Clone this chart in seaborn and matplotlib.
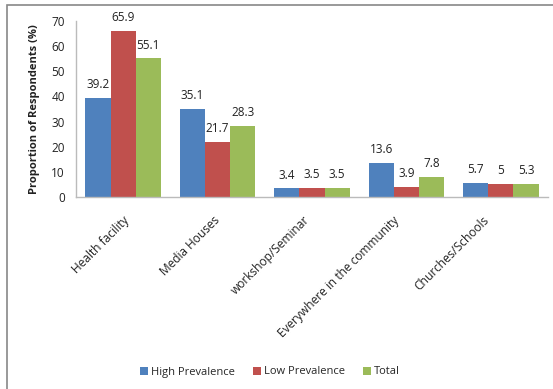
import matplotlib
matplotlib.use("Agg")
import matplotlib.pyplot as plt
import matplotlib.transforms as mtransforms
import seaborn as sns
import pandas as pd
from matplotlib.patches import Rectangle

categories = ["Health facility", "Media Houses", "workshop/Seminar",
              "Everywhere in the community", "Churches/Schools"]
series = ["High Prevalence", "Low Prevalence", "Total"]
high = [39.2, 35.1, 3.4, 13.6, 5.7]
low = [65.9, 21.7, 3.5, 3.9, 5.0]
total = [55.1, 28.3, 3.5, 7.8, 5.3]
labels = {
    "High Prevalence": ["39.2", "35.1", "3.4", "13.6", "5.7"],
    "Low Prevalence": ["65.9", "21.7", "3.5", "3.9", "5"],
    "Total": ["55.1", "28.3", "3.5", "7.8", "5.3"],
}
yticks = [0, 10, 20, 30, 40, 50, 60, 70]

df = pd.DataFrame({
    "Source": categories * 3,
    "Series": [series[0]] * 5 + [series[1]] * 5 + [series[2]] * 5,
    "Value": high + low + total,
})

sns.set_theme(style="white")
plt.rcParams["font.family"] = ["Open Sans", "DejaVu Sans"]

fig = plt.figure(figsize=(5.53, 3.89), dpi=100)
ax = fig.add_axes([76 / 553, 1 - 197 / 389, 472 / 553, 176 / 389])

palette = ["#4F81BD", "#C0504D", "#9BBB59"]
sns.barplot(data=df, x="Source", y="Value", hue="Series", order=categories,
            hue_order=series, palette=palette, saturation=1, width=0.8,
            linewidth=0, ax=ax, legend=True)

for cont, s in zip(ax.containers, series):
    ax.bar_label(cont, labels=labels[s], padding=5, fontsize=8.5, color="#222222")

ax.set_ylim(0, 70)
ax.set_yticks(yticks)
ax.tick_params(axis="y", labelsize=8.5, length=0, pad=8, colors="#222222")
ax.tick_params(axis="x", labelsize=8.6, length=0, pad=12, colors="#222222")
plt.setp(ax.get_xticklabels(), rotation=45, ha="right", rotation_mode="anchor")
# Excel-like placement: labels drift slightly left of their group centres
for i, lab in enumerate(ax.get_xticklabels()):
    shift = -(4.5 * i) / 100.0
    lab.set_transform(lab.get_transform() +
                      mtransforms.ScaledTranslation(shift, 0, fig.dpi_scale_trans))
ax.set_xlabel("")
ax.set_ylabel("Proportion of Respondents (%)", fontsize=8, fontweight="bold",
              labelpad=8, color="#222222")
for side in ["top", "right"]:
    ax.spines[side].set_visible(False)
for side in ["left", "bottom"]:
    ax.spines[side].set_color("#BBBBBB")
    ax.spines[side].set_linewidth(1)

leg = ax.legend(loc="center", bbox_to_anchor=(270 / 553, 1 - 372 / 389),
                bbox_transform=fig.transFigure, ncol=3, frameon=False,
                fontsize=8, handlelength=0.7, handleheight=0.7,
                handletextpad=0.3, columnspacing=1.6)

fig.patches.append(Rectangle((7 / 553, -0.1), 1.2, 1 - 5 / 389 + 0.1,
                             transform=fig.transFigure, fill=False,
                             edgecolor="#888888", linewidth=1.2))

fig.savefig("out.png", dpi=100)
